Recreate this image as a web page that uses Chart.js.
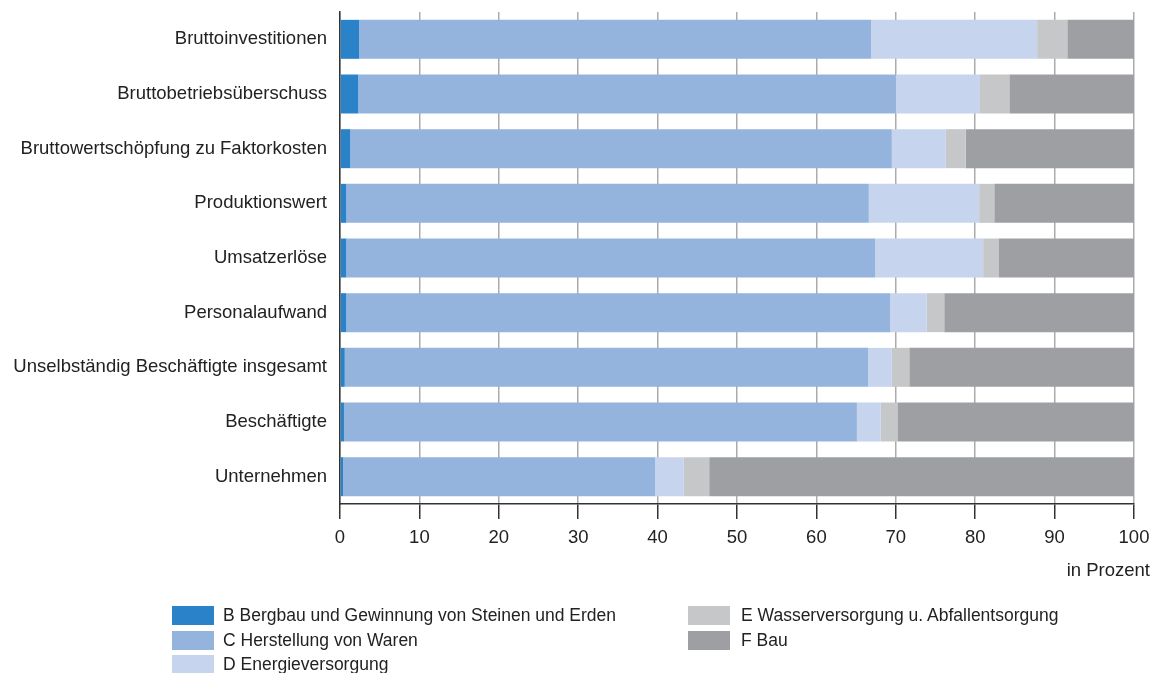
<!DOCTYPE html>
<html>
<head>
<meta charset="utf-8">
<script src="https://cdn.jsdelivr.net/npm/chart.js@4/dist/chart.umd.min.js"></script>
<style>
  html, body { margin: 0; padding: 0; background: #fff; }
  #wrap { position: relative; width: 1152px; height: 673px; overflow: hidden; }
  #c { position: absolute; left: 0; top: 0; }
  .lg { position: absolute; font-family: "Liberation Sans", Arial, sans-serif; font-size: 17.5px; color: #222; white-space: nowrap; }
  .sw { position: absolute; width: 42px; height: 19px; }
  .tx { position: absolute; line-height: 19px; }
</style>
</head>
<body>
<div id="wrap">
  <canvas id="c" width="1152" height="673"></canvas>
  <div id="legend"></div>
</div>
<script>
const categories = [
  "Bruttoinvestitionen",
  "Bruttobetriebsüberschuss",
  "Bruttowertschöpfung zu Faktorkosten",
  "Produktionswert",
  "Umsatzerlöse",
  "Personalaufwand",
  "Unselbständig Beschäftigte insgesamt",
  "Beschäftigte",
  "Unternehmen"
];
const seriesNames = [
  "B Bergbau und Gewinnung von Steinen und Erden",
  "C Herstellung von Waren",
  "D Energieversorgung",
  "E Wasserversorgung u. Abfallentsorgung",
  "F Bau"
];
const valuesB = [2.4, 2.3, 1.3, 0.8, 0.8, 0.8, 0.6, 0.5, 0.4];
const valuesC = [64.5, 67.7, 68.2, 65.8, 66.6, 68.5, 65.9, 64.6, 39.3];
const valuesD = [20.9, 10.6, 6.8, 13.9, 13.6, 4.6, 3.0, 3.0, 3.6];
const valuesE = [3.8, 3.7, 2.5, 1.9, 2.0, 2.2, 2.2, 2.1, 3.2];
const valuesF = [8.4, 15.7, 21.2, 17.6, 17.0, 23.9, 28.3, 29.8, 53.5];
const xTicks = [0, 10, 20, 30, 40, 50, 60, 70, 80, 90, 100];
const axisUnit = "in Prozent";

const colors = ["#2a83c8", "#95b4dd", "#c6d4ee", "#c6c7c9", "#9e9fa3"];
const allValues = [valuesB, valuesC, valuesD, valuesE, valuesF];
const FONT = '"Liberation Sans", Arial, sans-serif';

const datasets = allValues.map((v, i) => ({
  label: seriesNames[i],
  data: v,
  backgroundColor: colors[i],
  borderWidth: 0,
  barPercentage: 0.713,
  categoryPercentage: 1.0
}));

const unitPlugin = {
  id: 'unit',
  afterDraw(chart) {
    const ctx = chart.ctx;
    ctx.save();
    ctx.font = '18.5px ' + FONT;
    ctx.fillStyle = '#222';
    ctx.textAlign = 'right';
    ctx.textBaseline = 'middle';
    ctx.fillText(axisUnit, 1150, 571);
    ctx.restore();
  }
};

const chart = new Chart(document.getElementById('c'), {
  type: 'bar',
  data: { labels: categories, datasets },
  options: {
    indexAxis: 'y',
    responsive: false,
    animation: false,
    devicePixelRatio: 1,
    layout: { padding: { top: 12, right: 18, left: 0, bottom: 129 } },
    plugins: { legend: { display: false }, tooltip: { enabled: false } },
    scales: {
      x: {
        stacked: true,
        min: 0, max: 100,
        afterBuildTicks: s => { s.ticks = xTicks.map(v => ({ value: v })); },
        afterFit: s => { s.height = 40; s.paddingLeft = 0; s.paddingRight = 0; },
        ticks: { font: { family: FONT, size: 18.5 }, color: '#222', padding: 8, maxRotation: 0 },
        grid: { color: '#ababab', lineWidth: 1.5, tickColor: '#333', tickLength: 15, drawOnChartArea: true },
        border: { display: true, color: '#333', width: 1.5 }
      },
      y: {
        stacked: true,
        afterFit: s => { s.width = 340; s.paddingTop = 0; s.paddingBottom = 0; },
        ticks: { font: { family: FONT, size: 18.5 }, color: '#222', padding: 13 },
        grid: { display: false, drawTicks: false },
        border: { display: true, color: '#333', width: 1.5 }
      }
    }
  },
  plugins: [unitPlugin]
});

// HTML legend built from the datasets
const legendPos = [
  { x: 172, y: 606 }, { x: 172, y: 631 }, { x: 172, y: 655 },
  { x: 688, y: 606 }, { x: 688, y: 631 }
];
const lg = document.getElementById('legend');
chart.data.datasets.forEach((ds, i) => {
  const p = legendPos[i];
  const item = document.createElement('div');
  item.className = 'lg';
  item.style.left = p.x + 'px';
  item.style.top = p.y + 'px';
  const sw = document.createElement('div');
  sw.className = 'sw';
  sw.style.left = '0px'; sw.style.top = '0px';
  sw.style.background = ds.backgroundColor;
  const tx = document.createElement('div');
  tx.className = 'tx';
  tx.style.left = (i < 3 ? 51 : 53) + 'px';
  tx.style.top = '0px';
  tx.textContent = ds.label;
  item.appendChild(sw);
  item.appendChild(tx);
  lg.appendChild(item);
});
</script>
</body>
</html>
